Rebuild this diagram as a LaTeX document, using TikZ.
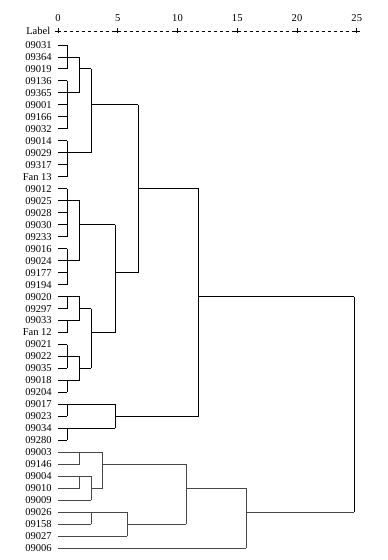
\documentclass[tikz,border=0pt]{standalone}
\usepackage{fontspec}
\setmainfont{Liberation Serif}
\newcommand\dgLeaf[3]{\foreach \k in {#1,...,#2}{\draw[den] (l\k.east) -- (l\k.east -| #3);}\draw[den] (l#1.east -| #3) -- (l#2.east -| #3);}
\newcommand\dgH[3]{\draw[den] (l#1.east -| #2) -- (l#1.east -| #3);}
\newcommand\dgV[3]{\draw[den] (l#2.east -| #1) -- (l#3.east -| #1);}
\begin{document}
\begin{tikzpicture}[x=0.75pt,y=-0.75pt,
  font=\fontsize{7.9}{9}\selectfont,
  lab/.style={anchor=east,inner xsep=4.5pt,inner ysep=0pt},
  den/.style={line width=0.7pt,black},
  axisline/.style={line width=0.6pt,dash pattern=on 2.6pt off 1.9pt},
  tick/.style={line width=0.6pt}]
\useasboundingbox (0,0) rectangle (387,560);
% axis
\node[anchor=east,inner sep=0pt] (lbl) at (50.5,31) {Label};
\coordinate (a0) at (58,31);
\coordinate (a25) at (356.8,31);
\draw[axisline] (a0) -- (a25);
\foreach \v in {0,5,10,15,20,25}{
  \coordinate (tk\v) at (58+11.95*\v,31);
  \draw[tick] (tk\v) ++(-3,0) -- ++(6,0);
  \draw[tick] (tk\v) ++(0,-2.5) -- ++(0,5);
  \node[inner sep=0pt] (n\v) at (58+11.95*\v,18) {\v};
}
% labels
\foreach \t [count=\i] in {09031,09364,09019,09136,09365,09001,09166,09032,09014,09029,09317,Fan 13,09012,09025,09028,09030,09233,09016,09024,09177,09194,09020,09297,09033,Fan 12,09021,09022,09035,09018,09204,09017,09023,09034,09280,09003,09146,09004,09010,09009,09026,09158,09027,09006}{
  \pgfmathsetmacro\yy{45+11.98*(\i-1)}
  \node[lab] (l\i) at (58,\yy) {\t};
}
% levels
\coordinate (L1) at (67,0);
\coordinate (L2) at (79.7,0);
\coordinate (L3) at (91.3,0);
\coordinate (L5) at (115,0);
\coordinate (LA) at (138.3,0);
\coordinate (LB) at (198.7,0);
\coordinate (LR) at (354.3,0);
\coordinate (LE1) at (102.7,0);
\coordinate (LE2) at (127,0);
\coordinate (LE3) at (186,0);
\coordinate (LE4) at (246,0);
% cluster A
\dgLeaf{1}{3}{L1}
\dgLeaf{4}{8}{L1}
\dgH{2}{L1}{L2}
\dgH{5}{L1}{L2}
\dgV{L2}{2}{5}
\dgH{3}{L2}{L3}
\dgLeaf{9}{12}{L1}
\dgH{10}{L1}{L3}
\dgV{L3}{3}{10}
\dgH{6}{L3}{LA}
% cluster B
\dgLeaf{13}{17}{L1}
\dgLeaf{18}{21}{L1}
\dgH{14}{L1}{L2}
\dgH{19}{L1}{L2}
\dgV{L2}{14}{19}
\dgH{16}{L2}{L5}
% cluster C
\dgLeaf{22}{23}{L1}
\dgLeaf{24}{25}{L1}
\dgH{22}{L1}{L2}
\dgH{24}{L1}{L2}
\dgV{L2}{22}{24}
\dgH{23}{L2}{L3}
\dgLeaf{26}{28}{L1}
\dgLeaf{29}{30}{L1}
\dgH{27}{L1}{L2}
\dgH{29}{L1}{L2}
\dgV{L2}{27}{29}
\dgH{28}{L2}{L3}
\dgV{L3}{23}{28}
\dgH{25}{L3}{L5}
\dgV{L5}{16}{25}
\dgH{20}{L5}{LA}
\dgV{LA}{6}{20}
\dgH{13}{LA}{LB}
% cluster D
\dgLeaf{31}{32}{L1}
\dgLeaf{33}{34}{L1}
\dgH{31}{L1}{L5}
\dgH{33}{L1}{L5}
\dgV{L5}{31}{33}
\dgH{32}{L5}{LB}
\dgV{LB}{13}{32}
\dgH{22}{LB}{LR}
% cluster E
\begin{scope}[den/.style={line width=0.7pt,black!72}]
\draw[den] (l35.east) -- (l35.east -| LE1);
\draw[den] (l36.east) -- (l36.east -| L2);
\dgV{L2}{35}{36}
\draw[den] (l37.east) -- (l37.east -| L3);
\draw[den] (l38.east) -- (l38.east -| L2);
\dgV{L2}{37}{38}
\draw[den] (l39.east) -- (l39.east -| L3);
\dgV{L3}{37}{39}
\dgH{38}{L3}{LE1}
\dgV{LE1}{35}{38}
\dgH{36}{LE1}{LE3}
\draw[den] (l40.east) -- (l40.east -| LE2);
\draw[den] (l41.east) -- (l41.east -| L3);
\dgV{L3}{40}{41}
\draw[den] (l42.east) -- (l42.east -| LE2);
\dgV{LE2}{40}{42}
\dgH{41}{LE2}{LE3}
\dgV{LE3}{36}{41}
\dgH{38}{LE3}{LE4}
\draw[den] (l43.east) -- (l43.east -| LE4);
\dgV{LE4}{38}{43}
\dgH{40}{LE4}{LR}
\end{scope}
\dgV{LR}{22}{40}
\end{tikzpicture}
\end{document}
